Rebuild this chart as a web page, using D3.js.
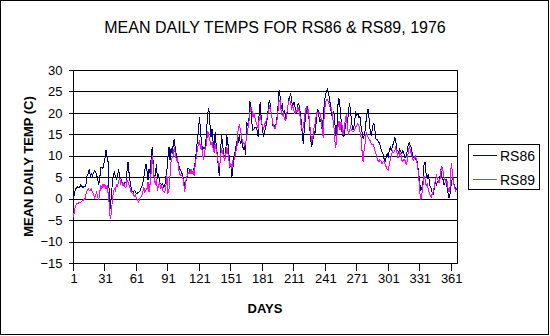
<!DOCTYPE html>
<html>
<head>
<meta charset="utf-8">
<script src="https://cdn.jsdelivr.net/npm/d3@7"></script>
<style>
  html, body { margin: 0; padding: 0; background: #fff; }
  svg { display: block; }
  text { font-family: "Liberation Sans", Arial, sans-serif; fill: #000; }
</style>
</head>
<body>
<svg id="chart" width="550" height="336"></svg>
<script>
const chartTitle = "MEAN DAILY TEMPS FOR RS86 & RS89, 1976";
const xTitle = "DAYS";
const yTitle = "MEAN DAILY TEMP (C)";
const seriesNames = ["RS86", "RS89"];
const xTickDays = [1, 31, 61, 91, 121, 151, 181, 211, 241, 271, 301, 331, 361];
const yTicks = [-15, -10, -5, 0, 5, 10, 15, 20, 25, 30];

const rs86 = [
  0.0,1.5,2.3,2.5,2.8,2.6,2.7,3.3,2.9,2.6,
  3.0,2.7,3.4,5.5,5.8,7.0,5.2,5.8,5.4,6.0,
  6.5,6.2,5.5,4.6,3.1,4.8,7.2,7.4,7.0,8.2,
  9.5,11.3,9.7,8.5,1.2,-2.3,0.6,3.5,5.8,6.2,
  5.0,4.6,5.4,6.8,5.2,4.8,4.1,3.5,3.1,3.9,
  3.6,6.6,8.6,5.8,3.9,2.3,1.7,1.5,1.9,1.6,
  1.2,1.3,1.5,1.6,2.3,2.8,3.5,4.9,6.6,8.1,
  6.6,4.3,7.0,5.8,9.5,12.0,8.0,4.6,5.8,8.1,
  4.6,5.8,3.9,3.5,3.1,3.5,2.7,3.0,5.0,6.6,
  9.7,12.1,9.0,11.7,10.5,12.5,14.0,11.7,10.1,9.0,
  8.2,7.0,6.6,6.2,5.4,4.3,2.9,3.9,4.7,7.0,
  7.0,6.2,7.0,5.8,6.2,7.4,8.6,10.9,13.6,15.6,
  19.1,16.0,12.8,11.4,11.9,11.7,12.8,16.7,19.9,21.0,
  17.5,14.4,16.3,13.2,11.3,15.6,12.5,10.5,7.4,5.4,
  10.1,14.8,13.0,10.5,9.9,10.7,15.0,13.2,10.9,7.5,
  7.8,5.1,7.4,9.7,10.9,12.5,13.6,13.2,14.8,12.8,
  13.6,12.5,11.4,12.5,10.1,17.9,17.1,17.5,22.8,21.4,
  17.5,16.0,16.3,16.7,16.7,16.0,14.4,20.6,22.6,18.3,
  16.7,14.4,15.2,16.7,17.5,19.5,22.2,23.0,20.6,19.1,
  17.1,17.1,16.7,17.5,19.1,21.8,25.3,23.7,21.0,22.2,
  19.5,20.6,19.1,18.7,21.0,23.1,23.7,24.5,22.6,21.8,
  22.6,21.4,20.2,20.2,22.2,21.8,20.2,18.3,15.2,12.8,
  16.3,18.7,21.0,21.4,19.9,17.1,14.0,12.1,13.2,16.0,
  15.0,17.1,19.9,20.8,18.9,17.9,18.7,15.8,19.1,22.2,
  23.9,25.1,25.5,24.4,23.4,21.3,19.5,19.5,20.5,17.9,
  14.6,16.3,21.8,23.4,21.4,18.5,15.3,14.4,14.8,16.6,
  18.1,17.5,19.9,22.4,20.6,17.9,16.1,16.1,18.3,20.0,
  19.5,19.9,18.9,19.2,16.9,15.6,14.0,14.6,16.1,18.5,
  20.6,20.8,17.7,15.2,14.8,16.7,17.7,16.7,14.0,13.8,
  13.6,13.2,12.5,11.7,10.9,10.4,9.3,8.7,9.7,10.5,
  9.6,11.3,11.9,11.1,12.5,12.8,14.2,14.0,11.4,11.3,
  10.4,11.5,11.0,10.5,11.2,10.4,9.5,9.9,11.1,12.6,
  13.0,12.3,11.9,10.4,9.7,9.9,9.2,9.3,7.8,6.2,
  3.5,1.8,2.6,3.7,7.8,8.6,6.0,4.7,5.7,4.3,
  2.7,2.3,1.2,1.0,2.6,4.1,3.3,3.9,3.7,4.7,
  6.8,5.2,4.7,3.3,3.5,4.6,2.6,1.2,0.1,1.3,
  3.5,4.6,4.3,3.1,2.6,2.1
];

const rs89 = [
  -4.3,-2.5,-1.6,-1.2,-1.2,-0.9,-0.8,-0.8,-0.6,-0.4,
  -0.2,0.0,1.2,2.0,2.3,1.9,1.9,2.3,1.5,1.2,
  0.0,0.8,1.5,0.5,-0.4,1.5,3.1,2.3,3.5,2.7,
  3.3,2.3,3.1,1.2,-1.2,-4.7,-3.5,-0.4,1.5,2.3,
  1.9,3.5,2.8,4.3,4.6,3.5,3.9,3.1,3.5,2.7,
  2.6,4.3,3.9,3.0,2.3,1.5,1.3,1.2,0.5,0.8,
  0.2,-0.4,-0.8,0.0,0.3,0.5,1.5,2.7,1.5,2.0,
  2.3,3.9,1.5,3.5,6.0,10.1,7.4,4.3,3.5,4.6,
  1.9,3.0,3.9,2.3,3.1,1.9,1.7,1.5,2.7,5.4,
  1.2,2.3,5.4,8.9,9.5,10.1,12.1,10.5,8.9,9.7,
  7.4,5.8,5.4,5.4,5.1,3.4,1.6,4.1,5.1,5.8,
  6.2,5.8,7.0,5.8,6.6,5.4,8.0,9.7,11.4,12.8,
  13.6,11.9,12.5,10.1,9.1,11.1,11.7,13.6,15.8,14.6,
  13.6,12.5,13.2,11.7,10.7,12.8,11.3,10.1,8.2,7.4,
  9.0,11.7,10.9,9.7,9.0,9.7,12.1,10.9,9.0,7.5,
  8.2,7.0,9.0,9.0,10.1,11.3,12.5,16.7,17.1,16.3,
  14.8,13.2,13.2,12.5,12.8,14.4,16.0,17.5,19.9,21.4,
  20.6,19.1,19.9,18.7,17.9,17.1,16.3,18.7,19.1,17.9,
  17.1,16.3,17.1,17.9,18.3,19.5,20.6,21.8,20.6,19.1,
  17.5,16.7,16.3,17.1,18.3,20.6,23.0,23.0,19.9,19.5,
  19.9,18.7,18.3,19.1,21.4,22.6,23.0,22.2,21.0,21.4,
  20.6,19.9,20.6,20.2,21.4,20.5,19.1,16.7,16.0,16.7,
  18.3,20.6,21.3,20.2,20.6,17.5,15.3,13.5,14.0,16.3,
  17.1,18.9,20.2,19.9,20.2,19.9,18.7,16.3,14.2,19.9,
  22.0,23.1,23.2,22.4,21.6,21.0,21.3,18.7,17.7,13.6,
  11.9,14.8,16.7,18.1,16.0,17.9,17.1,14.8,16.3,18.5,
  19.7,16.7,15.2,15.8,16.7,15.8,15.7,15.6,15.9,16.7,
  17.1,17.5,17.1,15.6,14.4,11.1,8.5,11.4,13.0,15.6,
  15.0,14.2,13.6,13.5,12.7,12.7,12.5,11.4,10.7,9.7,
  9.0,8.6,9.1,8.8,8.2,8.6,8.8,8.0,7.4,6.9,
  6.6,8.0,9.1,10.1,11.1,10.8,11.1,11.9,11.1,9.6,
  9.7,10.8,10.3,8.9,8.7,9.1,8.9,7.9,8.6,10.7,
  12.0,11.3,10.5,9.7,8.7,9.6,9.9,8.8,7.6,5.1,
  1.6,-0.2,1.0,2.9,5.2,4.7,3.1,3.5,2.3,1.5,
  0.8,0.4,1.2,1.8,3.1,4.4,5.4,4.7,3.7,3.7,
  6.4,7.4,6.8,5.2,4.3,3.7,4.1,2.3,1.5,2.9,
  8.2,6.4,4.1,2.7,1.9,2.6
];

const seriesColors = ["#000080", "#FF00FF"];

const W = 550, H = 336;
const plot = { left: 73, right: 457, top: 70, bottom: 263 };

const svg = d3.select("#chart");

// outer chart border
svg.append("rect")
  .attr("x", 0.5).attr("y", 0.5)
  .attr("width", W - 2).attr("height", H - 2)
  .attr("fill", "#fff").attr("stroke", "#000").attr("stroke-width", 1)
  .attr("shape-rendering", "crispEdges");

const x = d3.scaleLinear().domain([0.5, rs86.length + 0.5]).range([plot.left, plot.right]);
const y = d3.scaleLinear().domain([-15, 30]).range([plot.bottom, plot.top]);

// gridlines
svg.append("g").selectAll("line").data(yTicks).join("line")
  .attr("x1", plot.left).attr("x2", plot.right)
  .attr("y1", d => Math.round(y(d)) + 0.5).attr("y2", d => Math.round(y(d)) + 0.5)
  .attr("stroke", "#000").attr("stroke-width", 1)
  .attr("shape-rendering", "crispEdges");

// right border of plot area
svg.append("line")
  .attr("x1", plot.right + 0.5).attr("x2", plot.right + 0.5)
  .attr("y1", plot.top).attr("y2", plot.bottom + 1)
  .attr("stroke", "#000").attr("shape-rendering", "crispEdges");

// y axis
const yAxis = d3.axisLeft(y).tickValues(yTicks).tickSize(5).tickPadding(6).tickFormat(d3.format("d"));
const yg = svg.append("g").attr("transform", `translate(${plot.left + 0.5},0)`).call(yAxis);
yg.select(".domain").attr("stroke", "#000").attr("d", `M0,${plot.top}V${plot.bottom + 8}`).attr("shape-rendering", "crispEdges");
yg.selectAll(".tick line").attr("stroke", "#000").attr("shape-rendering", "crispEdges");
yg.selectAll(".tick text").style("font-size", "13px").style("font-family", "'Liberation Sans', Arial, sans-serif").attr("fill", "#000");

// x axis
const xAxis = d3.axisBottom(x).tickValues(xTickDays).tickSize(0).tickPadding(10).tickFormat(d3.format("d"));
const xg = svg.append("g").attr("transform", `translate(0,${plot.bottom + 0.5})`).call(xAxis);
xg.select(".domain").remove();
xg.selectAll(".tick text").style("font-size", "13px").style("font-family", "'Liberation Sans', Arial, sans-serif").attr("fill", "#000");
// tick marks at category boundaries
svg.append("g").selectAll("line").data(xTickDays).join("line")
  .attr("x1", d => Math.round(x(d - 0.5)) + 0.5).attr("x2", d => Math.round(x(d - 0.5)) + 0.5)
  .attr("y1", plot.bottom).attr("y2", plot.bottom + 8)
  .attr("stroke", "#000").attr("shape-rendering", "crispEdges");

// series lines
const line = d3.line().x((d, i) => x(i + 1)).y(d => y(d));
[rs86, rs89].forEach((s, k) => {
  svg.append("path").datum(s)
    .attr("d", line)
    .attr("fill", "none")
    .attr("stroke", seriesColors[k])
    .attr("stroke-width", 1)
    .attr("shape-rendering", "crispEdges");
});

// titles
svg.append("text").attr("x", 275).attr("y", 33).attr("text-anchor", "middle")
  .style("font-size", "16px").text(chartTitle);
svg.append("text").attr("x", (plot.left + plot.right) / 2).attr("y", 313).attr("text-anchor", "middle")
  .style("font-size", "13px").style("font-weight", "bold").text(xTitle);
svg.append("text").attr("transform", `translate(33,${(plot.top + plot.bottom) / 2}) rotate(-90)`)
  .attr("text-anchor", "middle")
  .style("font-size", "13px").style("font-weight", "bold").text(yTitle);

// legend
const lg = svg.append("g").attr("transform", "translate(468,144)");
lg.append("rect").attr("x", 0.5).attr("y", 0.5).attr("width", 71).attr("height", 45)
  .attr("fill", "#fff").attr("stroke", "#000").attr("shape-rendering", "crispEdges");
seriesNames.forEach((n, i) => {
  const cy = 11.5 + i * 24;
  lg.append("line").attr("x1", 5).attr("x2", 29).attr("y1", cy).attr("y2", cy)
    .attr("stroke", seriesColors[i]).attr("shape-rendering", "crispEdges");
  lg.append("text").attr("x", 32).attr("y", cy + 5).style("font-size", "14px").text(n);
});
</script>
</body>
</html>
